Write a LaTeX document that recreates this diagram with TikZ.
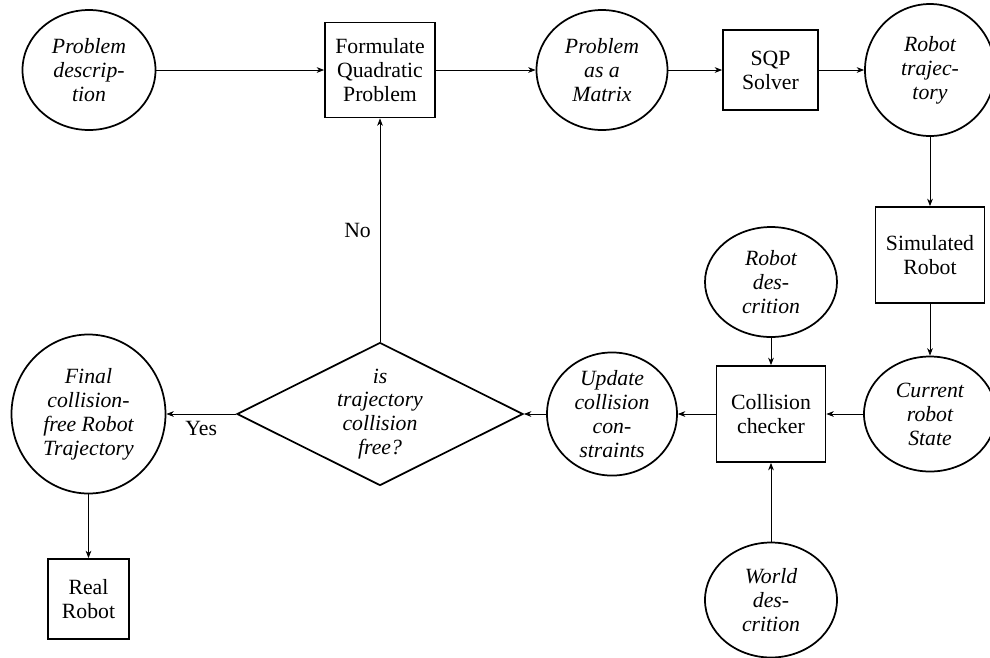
\documentclass[tikz,border=0pt]{standalone}
\usepackage{fontspec}
\setmainfont{Liberation Serif}
\usetikzlibrary{shapes.geometric,arrows.meta}
\newcommand\pxu{0.46pt}
\tikzset{
  every node/.style={font=\fontsize{10}{11}\selectfont, align=center, inner sep=0pt},
  datanode/.style={ellipse, draw, line width=0.8pt, font=\fontsize{10}{11}\selectfont\itshape},
  procbox/.style={rectangle, draw, line width=0.8pt},
  decision/.style={diamond, draw, line width=0.8pt, aspect=2, font=\fontsize{10}{11}\selectfont\itshape},
  flow/.style={line width=0.4pt, -{Stealth[length=3.4pt,width=2.6pt,inset=1pt]}},
  lbl/.style={inner sep=3.3pt}
}
\begin{document}
\begin{tikzpicture}[x=\pxu, y=-\pxu]
\useasboundingbox (0,0) rectangle (990,657);

% top row
\node[datanode, minimum width=133*\pxu, minimum height=120*\pxu] (pd) at (89,70) {Problem\\descrip-\\tion};
\node[procbox, minimum width=110*\pxu, minimum height=95*\pxu] (fq) at (380,70) {Formulate\\Quadratic\\Problem};
\node[datanode, minimum width=131*\pxu, minimum height=120*\pxu] (pm) at (602,70) {Problem\\as a\\Matrix};
\node[procbox, minimum width=95*\pxu, minimum height=80*\pxu] (sqp) at (770.5,70) {SQP\\Solver};
\node[datanode, minimum width=130*\pxu, minimum height=132*\pxu] (rt) at (930,70) {Robot\\trajec-\\tory};

% right column
\node[procbox, minimum width=109*\pxu, minimum height=96*\pxu] (sim) at (930,255) {Simulated\\Robot};
\node[datanode, minimum width=132*\pxu, minimum height=115*\pxu] (cur) at (930,414) {Current\\robot\\State};

% collision checking
\node[datanode, minimum width=132*\pxu, minimum height=110*\pxu] (rd) at (771,282) {Robot\\des-\\crition};
\node[procbox, minimum width=109*\pxu, minimum height=96*\pxu] (cc) at (771,414) {Collision\\checker};
\node[datanode, minimum width=132*\pxu, minimum height=115*\pxu] (wd) at (771,600) {World\\des-\\crition};
\node[datanode, minimum width=130*\pxu, minimum height=120*\pxu] (uc) at (612,414) {Update\\collision\\con-\\straints};

% decision and result
\node[decision, minimum width=286*\pxu, minimum height=143*\pxu] (dec) at (380,414) {is\\trajectory\\collision\\free?};
\node[datanode, minimum width=154*\pxu, minimum height=159*\pxu] (fin) at (88.5,414) {Final\\collision-\\free Robot\\Trajectory};
\node[procbox, minimum width=81*\pxu, minimum height=80*\pxu] (rr) at (88.5,599) {Real\\Robot};

% connectors
\draw[flow] (pd) -- (fq);
\draw[flow] (fq) -- (pm);
\draw[flow] (pm) -- (sqp);
\draw[flow] (sqp) -- (rt);
\draw[flow] (rt) -- (sim);
\draw[flow] (sim) -- (cur);
\draw[flow] (cur) -- (cc);
\draw[flow] (rd) -- (cc);
\draw[flow] (wd) -- (cc);
\draw[flow] (cc) -- (uc);
\draw[flow] (uc) -- (dec);
\draw[flow] (dec) -- node[lbl, below, pos=0.5] {Yes} (fin);
\draw[flow] (dec) -- node[lbl, left, pos=0.5, inner sep=4pt] {No} (fq);
\draw[flow] (fin) -- (rr);
\end{tikzpicture}
\end{document}
